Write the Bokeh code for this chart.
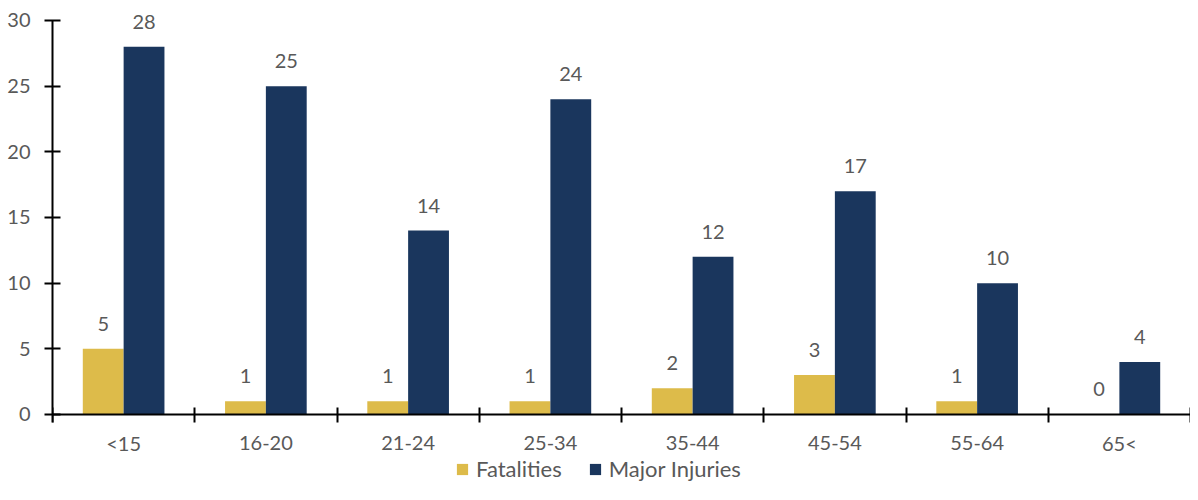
from bokeh.plotting import figure
from bokeh.models import Range1d, FixedTicker, Legend, LegendItem, ColumnDataSource
from bokeh.transform import dodge
from bokeh.embed import file_html
from bokeh.resources import INLINE
from bokeh.core.properties import value

categories = ["<15", "16-20", "21-24", "25-34", "35-44", "45-54", "55-64", "65<"]
fatalities = [5, 1, 1, 1, 2, 3, 1, 0]
major_injuries = [28, 25, 14, 24, 12, 17, 10, 4]
y_ticks = [0, 5, 10, 15, 20, 25, 30]

YELLOW = "#DDBB4A"
BLUE = "#1A365D"
LABEL = "#595959"
FONT = "Lato"

pos = [i + 0.5 for i in range(len(categories))]
src = ColumnDataSource(dict(
    x=pos, cat=categories, fat=fatalities, inj=major_injuries,
    fat_t=[str(v) for v in fatalities], inj_t=[str(v) for v in major_injuries],
))

p = figure(frame_width=1138, frame_height=482, output_backend="svg", toolbar_location=None,
           x_range=Range1d(0, len(categories)), y_range=Range1d(-5.18, 31.52),
           min_border_left=52, min_border_right=0, min_border_top=0, min_border_bottom=0)
p.outline_line_color = None
p.grid.visible = False
p.background_fill_color = "white"
p.border_fill_color = "white"

off = 0.1435
bw = 0.287
r1 = p.vbar(x=dodge("x", -off, range=p.x_range), top="fat", bottom=0, width=bw, source=src,
            color=YELLOW, line_color=None)
r2 = p.vbar(x=dodge("x", off, range=p.x_range), top="inj", bottom=0, width=bw, source=src,
            color=BLUE, line_color=None)

for ycol, tcol, o in (("fat", "fat_t", -off), ("inj", "inj_t", off)):
    p.text(x=dodge("x", o, range=p.x_range), y=ycol, text=tcol, source=src,
           text_align="center", text_baseline="alphabetic",
           y_offset=-25, text_font=value(FONT), text_font_size="20px", text_color=LABEL)

# category labels under the axis line
p.text(x="x", y=0, text="cat", source=src, text_align="center", text_baseline="middle",
       y_offset=29, text_font=value(FONT), text_font_size="20px", text_color=LABEL)

# x axis drawn at y=0: ticks at category boundaries
xa = p.xaxis[0]
xa.fixed_location = 0
xa.ticker = FixedTicker(ticks=pos, minor_ticks=list(range(len(categories) + 1)))
xa.major_tick_line_color = None
xa.major_tick_out = 0
xa.major_tick_in = 0
xa.minor_tick_line_color = "black"
xa.minor_tick_line_width = 2
xa.minor_tick_out = 8
xa.minor_tick_in = 7
xa.axis_line_color = "black"
xa.axis_line_width = 2
xa.major_label_text_font_size = "1px"
xa.major_label_text_alpha = 0
xa.major_label_standoff = 0

ya = p.yaxis[0]
ya.ticker = FixedTicker(ticks=y_ticks, minor_ticks=[])
ya.bounds = (-0.6, 30)
ya.major_tick_line_color = "black"
ya.major_tick_line_width = 2
ya.major_tick_out = 8
ya.major_tick_in = 8
ya.minor_tick_line_color = None
ya.axis_line_color = "black"
ya.axis_line_width = 2
ya.major_label_text_font = FONT
ya.major_label_text_font_size = "20px"
ya.major_label_text_color = LABEL
ya.major_label_standoff = 14

legend = Legend(items=[LegendItem(label="Fatalities", renderers=[r1]),
                       LegendItem(label="Major Injuries", renderers=[r2])],
                orientation="horizontal", location=(403, 0),
                label_text_font=FONT, label_text_font_size="22px", label_text_color=LABEL,
                label_height=22, glyph_width=14, glyph_height=14, label_standoff=7, spacing=26,
                border_line_color=None, background_fill_alpha=0, padding=0, margin=0)
p.add_layout(legend, "center")

open("out.html", "w").write(file_html(p, INLINE))
